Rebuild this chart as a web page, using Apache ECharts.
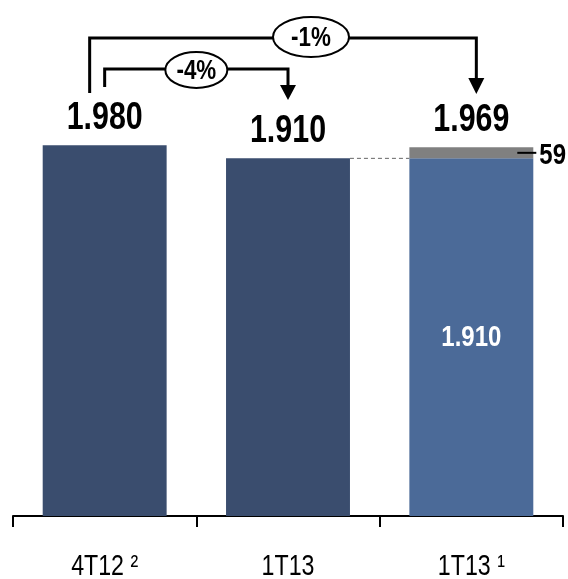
<!DOCTYPE html>
<html>
<head>
<meta charset="utf-8">
<script src="https://cdn.jsdelivr.net/npm/echarts@6/dist/echarts.min.js"></script>
<style>
  html, body { margin: 0; padding: 0; background: #fff; }
  #c { width: 568px; height: 579px; }
</style>
</head>
<body>
<div id="c"></div>
<script>
// Quarterly figures (thousands separator is '.')
const categories = ['4T12 ²', '1T13', '1T13 ¹'];
const baseValues = [1980, 1910, 1910];
const adjustValues = [null, null, 59];
const changeLabels = ['-4%', '-1%'];
const totals = baseValues.map((v, i) => v + (adjustValues[i] || 0));

const FONT = "'Liberation Sans', Arial, sans-serif";
const DARK = '#3A4D6E', LIGHT = '#4B6A98', GREY = '#808080';
const BAR_RATIO = 0.676;
const NARROW = 0.8; // horizontal squeeze for the condensed typeface look

const fmt = v => {
  const s = String(Math.round(v));
  return s.length > 3 ? s.slice(0, -3) + '.' + s.slice(-3) : s;
};

const chart = echarts.init(document.getElementById('c'), null, { renderer: 'canvas' });

chart.setOption({
  animation: false,
  grid: { left: 13, right: 5, top: 141.5, bottom: 63 },
  xAxis: {
    type: 'category',
    data: categories,
    axisLine: { show: true, lineStyle: { color: '#000', width: 2 } },
    axisTick: { show: true, alignWithLabel: false, inside: false, length: 11,
                lineStyle: { color: '#000', width: 2 } },
    axisLabel: { show: false }
  },
  yAxis: { type: 'value', min: 0, max: 2000, show: false },
  series: [
    {
      type: 'bar', name: 'base', stack: 'total', barWidth: (BAR_RATIO * 100) + '%',
      data: baseValues.map((v, i) => ({ value: v, itemStyle: { color: i === 2 ? LIGHT : DARK } }))
    },
    {
      type: 'bar', name: 'ajuste', stack: 'total',
      data: adjustValues.map(v => (v == null ? '-' : v)),
      itemStyle: { color: GREY }
    }
  ]
});

// Pixel helpers from the chart's own scales
const px = (i, v) => chart.convertToPixel({ gridIndex: 0 }, [i, v]);
const cx = categories.map((_, i) => px(i, 0)[0]);
const yAxisLine = px(0, 0)[1];
const halfBar = (cx[1] - cx[0]) * BAR_RATIO / 2;
const yBase = baseValues.map((v, i) => px(i, v)[1]);
const yTotal = totals.map((v, i) => px(i, v)[1]);
const yAdjMid = px(2, baseValues[2] + adjustValues[2] / 2)[1];
const yInner = px(2, baseValues[2] / 2)[1];

const figure = (x, y, text, size, color, align, weight) => ({
  type: 'text', x: x, y: y, scaleX: NARROW, z: 12,
  style: { text: text, fill: color, font: (weight || 'bold') + ' ' + size + 'px ' + FONT,
           align: align || 'center', verticalAlign: 'middle' }
});

const stroke = { stroke: '#000', lineWidth: 3, fill: null };
const head = (x, yTop, yTip) => ({
  type: 'polygon', shape: { points: [[x - 8, yTop], [x + 8, yTop], [x, yTip]] },
  style: { fill: '#000' }
});
const bubble = (x, y, rx, ry, text) => ([
  { type: 'ellipse', shape: { cx: x, cy: y, rx: rx, ry: ry },
    style: { fill: '#fff', stroke: '#000', lineWidth: 2 }, z: 10 },
  figure(x, y + 1, text, 28, '#000')
]);

const outerL = cx[0] - 15, outerR = cx[2] + 5;
const graphics = [
  // category names under the axis
  ...categories.map((c, i) => figure(cx[i], yAxisLine + 51, c, 29, '#000', 'center', 'normal')),
  // totals above each bar
  ...totals.map((v, i) => figure(cx[i], yTotal[i] - 27, fmt(v), 38, '#000')),
  // base value inside the adjusted bar
  figure(cx[2], yInner + 1, fmt(baseValues[2]), 30, '#fff'),
  // adjustment value with its leader
  figure(cx[2] + halfBar + 6, yAdjMid + 3, fmt(adjustValues[2]), 30, '#000', 'left'),
  { type: 'line', shape: { x1: cx[2] + halfBar - 16, y1: yAdjMid, x2: cx[2] + halfBar + 3, y2: yAdjMid },
    style: { stroke: '#000', lineWidth: 2 }, z: 10 },
  // -4%: 4T12 -> 1T13
  { type: 'polyline', shape: { points: [[cx[0], 87], [cx[0], 69], [cx[1], 69], [cx[1], 86]] }, style: stroke },
  head(cx[1], 85, 100),
  ...bubble((cx[0] + cx[1]) / 2, 70, 31, 18, changeLabels[0]),
  // -1%: 4T12 -> 1T13 adjusted
  { type: 'polyline', shape: { points: [[outerL, 93], [outerL, 38], [outerR, 38], [outerR, 79]] }, style: stroke },
  head(outerR, 78, 94),
  ...bubble(cx[1] + 23, 37, 38, 20, changeLabels[1]),
  // dashed guide between 1T13 and the adjusted base
  { type: 'line', shape: { x1: cx[1] + halfBar, y1: yBase[1], x2: cx[2] - halfBar, y2: yBase[2] },
    style: { stroke: '#666', lineWidth: 1, lineDash: [4, 3] } }
];
chart.setOption({ graphic: graphics });
</script>
</body>
</html>
